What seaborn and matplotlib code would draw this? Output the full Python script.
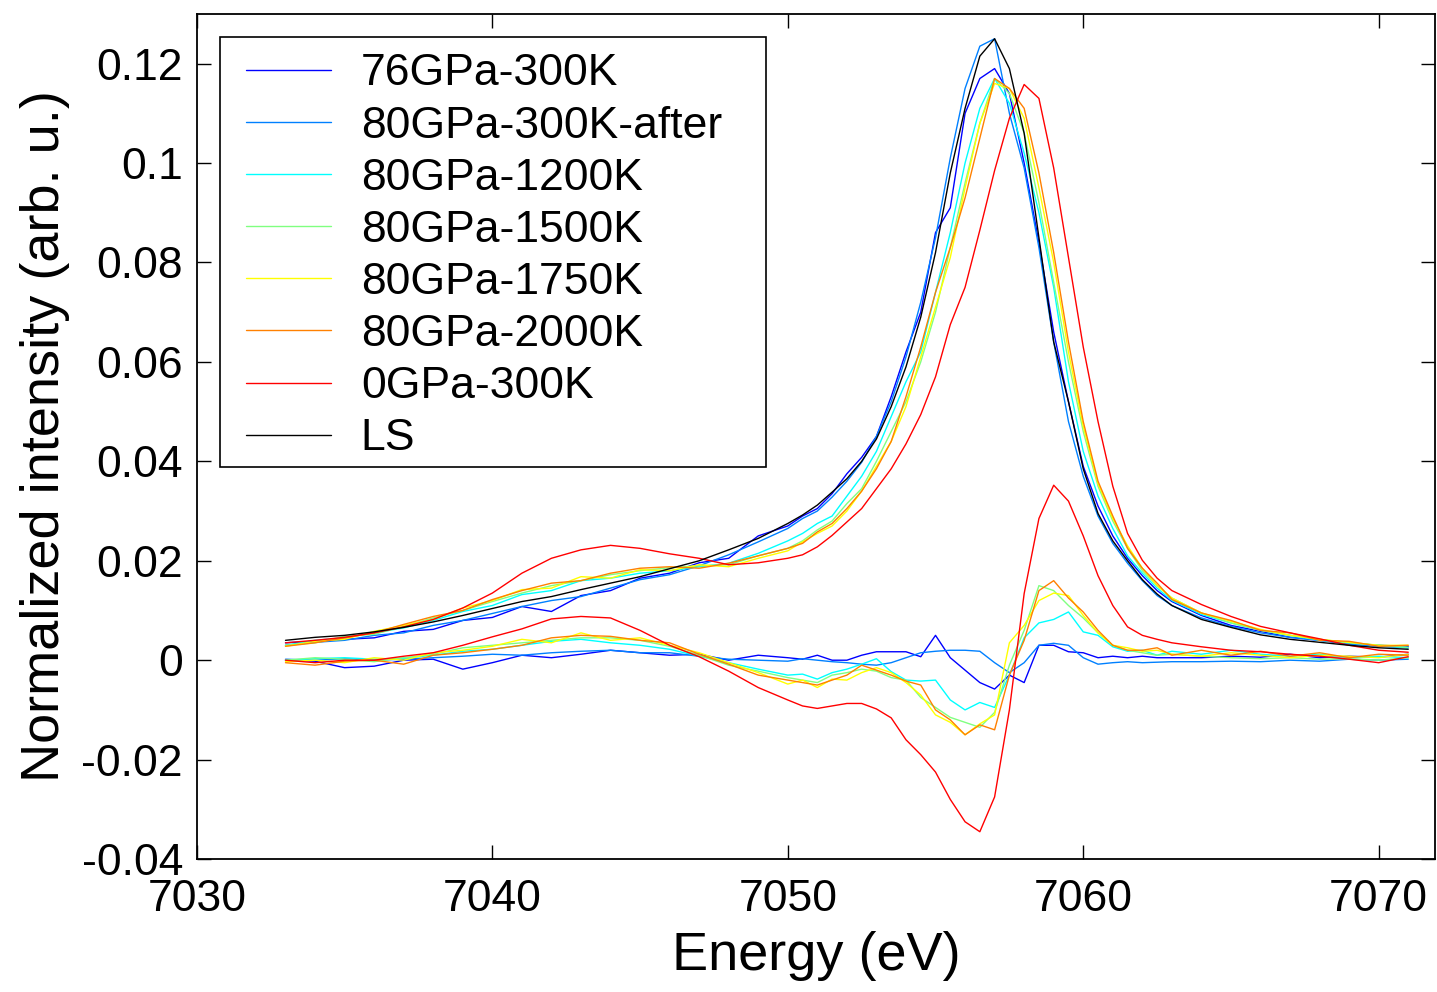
import numpy as np
import pandas as pd
import matplotlib
matplotlib.use("Agg")
import matplotlib.pyplot as plt
from matplotlib.patches import Rectangle
import seaborn as sns

# energy grid (eV)
energy = [7033, 7034, 7035, 7036, 7037, 7038, 7039, 7040, 7041, 7042, 7043, 7044, 7045, 7046, 7047, 7048, 7049, 7050,
          7050.5, 7051, 7051.5, 7052, 7052.5, 7053, 7053.5, 7054, 7054.5, 7055, 7055.5, 7056, 7056.5, 7057, 7057.5,
          7058, 7058.5, 7059, 7059.5, 7060, 7060.5, 7061, 7061.5, 7062, 7062.5, 7063,
          7064, 7065, 7066, 7067, 7068, 7069, 7070, 7071]

labels = ["76GPa-300K", "80GPa-300K-after", "80GPa-1200K", "80GPa-1500K",
          "80GPa-1750K", "80GPa-2000K", "0GPa-300K", "LS"]
colors = ["#0000ff", "#0080ff", "#00ffff", "#80ff80", "#ffff00", "#ff8000", "#ff0000", "#000000"]

# spectra
gpa76_300k = [.0035, .0038, .0042, .0045, .0058, .0062, .0080, .0086, .0108, .0098, .0130, .0140, .0165, .0175, .0196, .0205, .0250, .0270,
              .0290, .0305, .0335, .0375, .0408, .0450, .0530, .0620, .0700, .0860, .0910, .1100, .1170, .1190, .1140,
              .1000, .0840, .0660, .0520, .0390, .0310, .0250, .0205, .0170, .0140, .0118,
              .0090, .0070, .0058, .0046, .0040, .0034, .0030, .0028]
gpa80_300k_after = [.0030, .0036, .0040, .0050, .0055, .0070, .0080, .0094, .0108, .0120, .0128, .0145, .0162, .0172, .0190, .0212, .0238, .0265,
                    .0285, .0300, .0328, .0360, .0398, .0450, .0520, .0610, .0720, .0850, .1010, .1150, .1235, .1250, .1100,
                    .0990, .0830, .0640, .0480, .0370, .0290, .0235, .0195, .0160, .0130, .0110,
                    .0085, .0068, .0055, .0046, .0040, .0032, .0028, .0025]
gpa80_1200k = [.0030, .0040, .0045, .0055, .0065, .0080, .0098, .0110, .0132, .0140, .0160, .0165, .0175, .0180, .0188, .0195, .0215, .0240,
               .0255, .0275, .0290, .0330, .0370, .0420, .0490, .0560, .0620, .0740, .0860, .1000, .1110, .1170, .1120,
               .1020, .0900, .0750, .0560, .0420, .0330, .0265, .0210, .0175, .0145, .0120,
               .0092, .0075, .0060, .0050, .0040, .0035, .0030, .0025]
gpa80_1500k = [.0030, .0035, .0048, .0052, .0068, .0085, .0100, .0118, .0135, .0150, .0160, .0172, .0180, .0186, .0190, .0192, .0210, .0225,
               .0240, .0262, .0280, .0315, .0345, .0400, .0460, .0520, .0600, .0700, .0830, .0960, .1080, .1170, .1140,
               .1060, .0920, .0760, .0600, .0460, .0350, .0280, .0225, .0180, .0150, .0125,
               .0095, .0075, .0060, .0050, .0042, .0035, .0030, .0026]
gpa80_1750k = [.0028, .0038, .0042, .0058, .0070, .0082, .0105, .0120, .0142, .0145, .0168, .0165, .0182, .0180, .0192, .0188, .0205, .0220,
               .0238, .0255, .0270, .0300, .0340, .0390, .0440, .0510, .0610, .0710, .0810, .0950, .1080, .1160, .1150,
               .1090, .0950, .0800, .0620, .0470, .0355, .0285, .0230, .0185, .0150, .0125,
               .0095, .0078, .0062, .0050, .0042, .0036, .0030, .0030]
gpa80_2000k = [.0028, .0035, .0045, .0055, .0072, .0088, .0100, .0122, .0140, .0155, .0160, .0175, .0185, .0188, .0185, .0195, .0210, .0225,
               .0235, .0258, .0275, .0305, .0340, .0385, .0440, .0530, .0630, .0740, .0830, .0930, .1050, .1170, .1150,
               .1110, .0980, .0820, .0640, .0480, .0360, .0290, .0225, .0185, .0155, .0122,
               .0095, .0080, .0060, .0055, .0040, .0038, .0028, .0030]
gpa0_300k = [.0035, .0040, .0046, .0055, .0067, .0082, .0105, .0135, .0175, .0205, .0222, .0231, .0225, .0214, .0205, .0192, .0196, .0205,
             .0212, .0228, .0251, .0278, .0305, .0345, .0385, .0435, .0494, .0570, .0675, .0750, .0865, .0985, .1090,
             .1158, .1130, .0990, .0810, .0630, .0480, .0350, .0255, .0201, .0165, .0140,
             .0112, .0088, .0068, .0055, .0043, .0030, .0020, .0016]
ls = [.0040, .0046, .0050, .0057, .0066, .0077, .0090, .0104, .0118, .0128, .0142, .0155, .0168, .0184, .0200, .0222, .0245, .0275,
      .0292, .0312, .0338, .0365, .0400, .0445, .0510, .0590, .0690, .0820, .0980, .1110, .1215, .1250, .1190,
      .1060, .0850, .0640, .0520, .0385, .0295, .0240, .0200, .0162, .0133, .0110,
      .0082, .0066, .0051, .0042, .0036, .0030, .0025, .0022]

# difference spectra (no difference for LS)
d_76_300k = [.0000, -.0002, -.0015, -.0012, .0000, .0002, -.0018, -.0005, .0010, .0005, .0012, .0020, .0015, .0010, .0012, .0000, .0010, .0005,
             .0002, .0010, .0000, .0000, .0010, .0017, .0017, .0017, .0007, .0050, .0005, -.0020, -.0045, -.0058, -.0030,
             -.0045, .0030, .0030, .0017, .0015, .0005, .0008, .0005, .0008, .0005, .0005,
             .0005, .0008, .0006, .0012, .0005, .0008, .0006, .0012]
d_80_300k_after = [.0002, .0000, .0003, .0000, .0002, .0005, .0008, .0012, .0010, .0015, .0018, .0020, .0015, .0015, .0008, .0002, .0000, -.0002,
                   .0003, .0000, -.0003, -.0005, -.0008, -.0010, -.0005, .0005, .0015, .0018, .0020, .0020, .0018, -.0005, -.0025,
                   -.0005, .0030, .0034, .0030, .0005, -.0008, -.0005, -.0003, -.0005, -.0004, -.0003,
                   -.0003, -.0002, -.0003, .0000, -.0002, .0002, .0000, .0002]
d_80_1200k = [.0000, .0003, .0005, .0002, .0004, .0010, .0018, .0022, .0030, .0038, .0042, .0035, .0030, .0022, .0008, -.0005, -.0018, -.0030,
              -.0028, -.0038, -.0025, -.0018, -.0008, .0003, -.0023, -.0040, -.0042, -.0040, -.0080, -.0100, -.0085, -.0095, -.0030,
              .0045, .0075, .0082, .0097, .0057, .0050, .0027, .0018, .0020, .0010, .0018,
              .0012, .0020, .0012, .0008, .0012, .0005, .0008, .0005]
d_80_1500k = [.0000, .0005, .0002, -.0003, .0005, .0012, .0025, .0030, .0035, .0040, .0045, .0045, .0040, .0028, .0010, -.0010, -.0022, -.0035,
              -.0040, -.0045, -.0030, -.0025, -.0018, -.0022, -.0035, -.0040, -.0075, -.0095, -.0115, -.0125, -.0135, -.0105, -.0010,
              .0060, .0150, .0140, .0110, .0085, .0055, .0030, .0020, .0015, .0010, .0012,
              .0008, .0005, .0003, .0005, .0002, .0003, .0000, .0005]
d_80_1750k = [-.0003, .0000, -.0005, .0005, .0000, .0015, .0020, .0028, .0042, .0035, .0055, .0040, .0045, .0030, .0015, -.0005, -.0025, -.0048,
              -.0040, -.0055, -.0038, -.0040, -.0025, -.0015, -.0025, -.0045, -.0070, -.0110, -.0125, -.0150, -.0128, -.0110, .0035,
              .0070, .0120, .0135, .0130, .0090, .0055, .0030, .0025, .0018, .0020, .0012,
              .0008, .0015, .0010, .0005, .0010, .0008, .0005, .0012]
d_80_2000k = [-.0005, -.0010, -.0002, .0000, -.0008, .0010, .0015, .0022, .0030, .0045, .0050, .0048, .0040, .0035, .0012, -.0008, -.0030, -.0040,
              -.0045, -.0050, -.0040, -.0030, -.0010, -.0020, -.0030, -.0042, -.0050, -.0100, -.0120, -.0150, -.0130, -.0140, -.0030,
              .0040, .0140, .0160, .0125, .0097, .0060, .0030, .0020, .0020, .0025, .0010,
              .0020, .0010, .0018, .0008, .0015, .0005, .0012, .0010]
d_0_300k = [.0000, -.0005, .0000, .0000, .0008, .0015, .0030, .0047, .0063, .0083, .0088, .0085, .0060, .0030, .0007, -.0022, -.0055, -.0080,
            -.0092, -.0097, -.0092, -.0087, -.0087, -.0098, -.0116, -.0160, -.0190, -.0225, -.0280, -.0325, -.0345, -.0275, -.0100,
            .0134, .0285, .0352, .0320, .0250, .0170, .0110, .0067, .0050, .0042, .0035,
            .0027, .0020, .0017, .0012, .0008, .0002, -.0005, .0007]

ytick_vals = [-0.04, -0.02, 0, 0.02, 0.04, 0.06, 0.08, 0.1, 0.12]
ytick_labels = ["-0.04", "-0.02", "0", "0.02", "0.04", "0.06", "0.08", "0.1", "0.12"]
xtick_vals = [7030, 7040, 7050, 7060, 7070]

spectra = [gpa76_300k, gpa80_300k_after, gpa80_1200k, gpa80_1500k, gpa80_1750k, gpa80_2000k, gpa0_300k, ls]
diffs = [d_76_300k, d_80_300k_after, d_80_1200k, d_80_1500k, d_80_1750k, d_80_2000k, d_0_300k]

df_spec = pd.concat([pd.DataFrame({"energy": energy, "intensity": v, "sample": n})
                     for n, v in zip(labels, spectra)], ignore_index=True)
df_diff = pd.concat([pd.DataFrame({"energy": energy, "intensity": v, "sample": n})
                     for n, v in zip(labels[:-1], diffs)], ignore_index=True)

sns.set_theme(style="ticks")
plt.rcParams["font.family"] = ["Liberation Sans", "DejaVu Sans"]
plt.rcParams["text.color"] = "black"
plt.rcParams["axes.labelcolor"] = "black"

fig = plt.figure(figsize=(14.37, 9.92), dpi=100)
ax = fig.add_axes([0.137, 0.134, 0.8615, 0.852])

palette = dict(zip(labels, colors))
sns.lineplot(data=df_diff, x="energy", y="intensity", hue="sample", palette=palette,
             hue_order=labels[:-1], estimator=None, sort=False, lw=1.0, legend=False, ax=ax)
sns.lineplot(data=df_spec, x="energy", y="intensity", hue="sample", palette=palette,
             hue_order=labels, estimator=None, sort=False, lw=1.0, ax=ax)

ax.set_xlim(7030, 7071.9)
ax.set_ylim(-0.04, 0.13)
ax.set_xticks(xtick_vals)
ax.set_yticks(ytick_vals)
ax.set_yticklabels(ytick_labels)
ax.tick_params(direction="in", length=10, width=1, top=True, right=True,
               labelsize=32, colors="black")
ax.tick_params(axis="x", pad=14)
ax.tick_params(axis="y", pad=10)
for s in ax.spines.values():
    s.set_linewidth(1.3)
    s.set_color("black")

ax.set_xlabel("Energy (eV)", fontsize=39, labelpad=8, color="black")
ax.set_ylabel("Normalized intensity (arb. u.)", fontsize=39, labelpad=8, color="black")

# legend box (drawn separately to get the wide right margin)
box = Rectangle((0.0186, 0.464), 0.441, 0.509, transform=ax.transAxes,
                facecolor="white", edgecolor="black", lw=1.2, zorder=4)
ax.add_patch(box)
leg = ax.legend(handles=ax.get_lines()[-8:], labels=labels, loc="upper left",
                bbox_to_anchor=(0.029, 0.969), borderaxespad=0, fontsize=32,
                frameon=False, handlelength=1.9, handletextpad=0.68,
                labelspacing=0.25, borderpad=0.3)
leg.set_zorder(5)

fig.savefig("out.png", dpi=100)
